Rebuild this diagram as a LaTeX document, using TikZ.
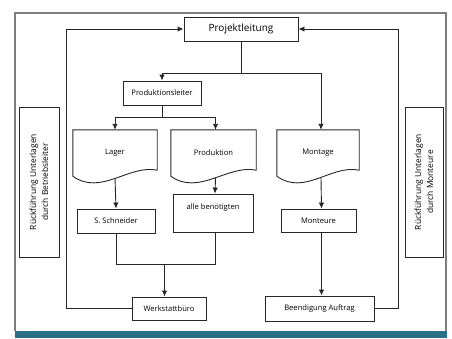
\documentclass[tikz,border=0pt]{standalone}
\usepackage{fontspec}
\setmainfont{Open Sans}
\usepackage{xcolor}
\usetikzlibrary{arrows.meta,positioning,calc}

\definecolor{framegray}{RGB}{125,125,125}
\definecolor{barteal}{RGB}{43,112,135}

% document shape (wavy bottom) round a named node
\newcommand{\docshape}[1]{%
  \draw[ln] (#1.south west) -- (#1.north west) -- (#1.north east) -- ([yshift=6pt]#1.south east)
    .. controls ([xshift=-28pt,yshift=12pt]#1.south east) and ([xshift=28pt,yshift=-20pt]#1.south west) .. (#1.south west) -- cycle;}

\begin{document}
\begin{tikzpicture}[
  x=1pt, y=-1pt,
  ln/.style={line width=0.9pt, draw=black!85},
  box/.style={ln, rectangle, minimum height=24pt, inner sep=1pt, align=center, font=\fontsize{7.6}{9}\selectfont},
  doc/.style={rectangle, minimum height=46pt, inner sep=0pt, align=center, font=\fontsize{7.6}{9}\selectfont},
  sidebox/.style={ln, rectangle, rotate=90, minimum width=150pt, inner sep=1pt, align=center, font=\fontsize{8.4}{12}\selectfont},
  arr/.style={ln, -{Latex[length=6pt,width=5.5pt]}}
]
\useasboundingbox (0,0) rectangle (452,338);

% frame and bottom bar
\draw[framegray, line width=1.2pt] (15,331) -- (15,13) -- (446,13) -- (446,331);
\fill[barteal] (15,331) rectangle (447,338);

\node[box, minimum width=114pt, font=\fontsize{10}{12}\selectfont] (proj) at (241,29) {Projektleitung};
\node[box, minimum width=78pt] (pleiter) at (162,93) {Produktionsleiter};

\node[doc, minimum width=84pt] (lager) at (115,153) {Lager};
\node[doc, minimum width=85pt] (prod) at (213.5,153) {Produktion};
\node[doc, minimum width=82pt] (montage) at (318,153) {Montage};
\docshape{lager}
\docshape{prod}
\docshape{montage}

\node[box, minimum width=78pt] (schneider) at (116,221) {S. Schneider};
\node[box, minimum width=80pt, minimum height=0pt, text height=14pt, text depth=22pt] (alle) at (213,213) {alle benötigten};
\node[box, minimum width=75pt, minimum height=23pt] (monteure) at (318.5,220.5) {Monteure};

\node[box, minimum width=74pt, minimum height=23pt] (werk) at (169,308.5) {Werkstattbüro};
\node[box, minimum width=109pt, minimum height=25pt] (beend) at (319.5,308.5) {Beendigung Auftrag};

\node[sidebox, minimum height=40pt] (lret) at (39,182) {Rückführung Unterlagen\\durch Betriebsleiter};
\node[sidebox, minimum height=38pt] (rret) at (424,182) {Rückführung Unterlagen\\durch Monteure};

% Projektleitung branches
\draw[arr] (proj.south) -- ++(0,32) -| (pleiter.north);
\draw[arr] (proj.south) -- ++(0,32) -| ([xshift=3pt]montage.north);

% Produktionsleiter branches
\draw[arr] (pleiter.south) -- ++(0,12) -| (lager.north);
\draw[arr] (pleiter.south) -- ++(0,12) -| ([xshift=2pt]prod.north);

\draw[arr] ([yshift=-2pt]lager.south) -- (schneider.north);
\draw[arr] ([xshift=2pt,yshift=-2pt]prod.south) -- ([xshift=2pt]alle.north);
\draw[arr] ([xshift=3pt,yshift=-2pt]montage.south) -- ([xshift=3pt]monteure.north);

% join to Werkstattbuero
\draw[ln] (schneider.south) -- ++(0,31) coordinate (join) -| ([xshift=2pt]alle.south);
\coordinate (mid) at ($(join)!0.5!(join -| alle.south)$);
\draw[arr] (mid) -- (mid |- werk.north);

\draw[arr] ([xshift=3pt]monteure.south) -- ([xshift=3pt]monteure.south |- beend.north);

% feedback lines
\draw[arr] (werk.west) -- ++(-65,0) |- (proj.west);
\draw[arr] (beend.east) -- ++(24,0) |- (proj.east);

\end{tikzpicture}
\end{document}
